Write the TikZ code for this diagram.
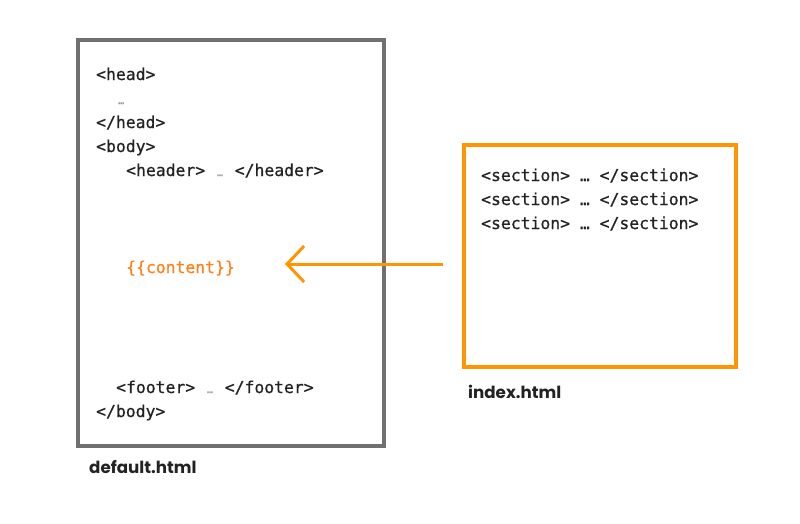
\documentclass[tikz,border=0pt]{standalone}
\usepackage{fontspec}
\newfontfamily\codefont{DejaVu Sans Mono}[FakeBold=0.6]
\newfontfamily\labelfont{Poppins}
\usetikzlibrary{arrows.meta}

\definecolor{codegray}{HTML}{222222}
\definecolor{framegray}{HTML}{707070}
\definecolor{frameorange}{HTML}{FF9500}
\definecolor{codeorange}{HTML}{FF7F1A}
\definecolor{dotgray}{HTML}{9A9A9A}

\newcommand{\grayellip}{\makebox[\fontcharwd\font`\x]{\fontsize{10}{10}\selectfont\textcolor{dotgray}{…}}}

\tikzset{
  code/.style={anchor=base west,inner sep=0pt,text=codegray,
    font=\codefont\fontsize{16.4}{24}\selectfont},
  filelabel/.style={anchor=base west,inner sep=0pt,text=codegray,
    font=\labelfont\bfseries\fontsize{16.7}{20}\selectfont},
  page/.style={draw,line width=4pt,inner sep=0pt}
}

\begin{document}
\begin{tikzpicture}[x=1pt,y=-1pt]
\useasboundingbox (0,0) rectangle (800,523);

% the two files
\node[page,draw=framegray,minimum width=306pt,minimum height=406pt] (default) at (231,243) {};
\node[page,draw=frameorange,minimum width=272pt,minimum height=222pt] (index) at (600,256) {};

% default.html
\node[code] (head) at (96,80) {<head>};
\node[code] (headdots) at (116,104) {\grayellip};
\node[code] (headend) at (96,128) {</head>};
\node[code] (body) at (96,152) {<body>};
\node[code] (header) at (126,176) {<header> \grayellip{} </header>};
\node[code,text=codeorange] (content) at (126,273) {\{\{content\}\}};
\node[code] (footer) at (116,393) {<footer> \grayellip{} </footer>};
\node[code] (bodyend) at (96,417) {</body>};

% index.html
\foreach \i/\y in {1/181,2/205,3/229}
  \node[code] (section\i) at (481,\y) {<section> … </section>};

\node[filelabel] (defaultname) at (89,473) {default.html};
\node[filelabel] (indexname) at (468,398) {index.html};

% index.html goes into {{content}}
\coordinate (src) at (443,264);
\coordinate (dst) at (285,264);
\draw[frameorange,line width=3pt,-{Straight Barb[length=17pt,width=36pt,line width=3pt]}] (src) -- (dst);
\end{tikzpicture}
\end{document}
